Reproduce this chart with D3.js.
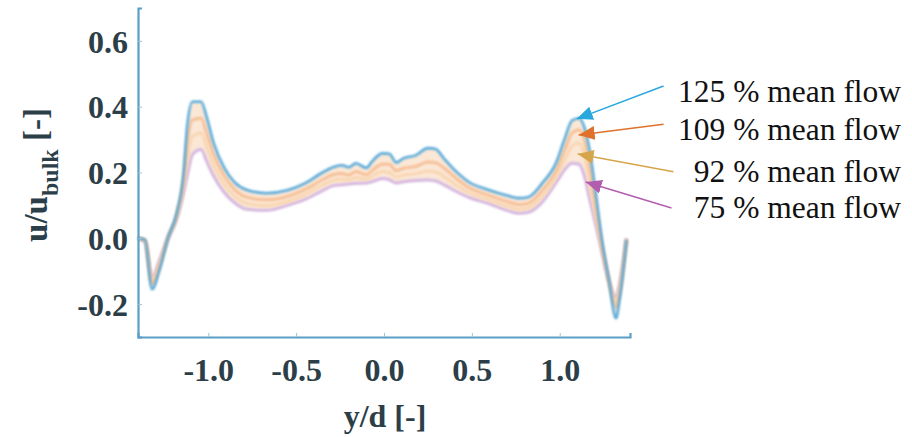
<!DOCTYPE html>
<html><head><meta charset="utf-8">
<script src="https://cdn.jsdelivr.net/npm/d3@7"></script>
<style>
html,body{margin:0;padding:0;background:#fff;}
svg{display:block;}
</style></head>
<body>
<svg id="chart" width="912" height="437"></svg>
<script>
// y/d positions shared by every series
const yd = [-1.40,-1.36,-1.32,-1.28,-1.23,-1.18,-1.14,-1.12,-1.09,-1.04,-1.01,-0.97,-0.91,-0.85,-0.78,-0.67,-0.55,-0.45,-0.35,-0.29,-0.24,-0.20,-0.16,-0.10,-0.07,-0.01,0.03,0.07,0.11,0.18,0.25,0.29,0.35,0.42,0.48,0.60,0.70,0.77,0.82,0.90,0.98,1.03,1.07,1.11,1.14,1.17,1.21,1.24,1.28,1.32,1.34,1.38];

const flow125 = [0.00,-0.005,-0.155,-0.10,0.00,0.075,0.20,0.34,0.415,0.415,0.37,0.29,0.215,0.17,0.147,0.137,0.146,0.167,0.20,0.216,0.222,0.216,0.228,0.214,0.232,0.258,0.257,0.23,0.243,0.252,0.274,0.272,0.237,0.198,0.172,0.146,0.13,0.122,0.125,0.167,0.23,0.305,0.358,0.365,0.338,0.268,0.116,-0.005,-0.127,-0.243,-0.188,-0.005];
const flow109 = [0.00,-0.005,-0.14,-0.09,0.00,0.07,0.18,0.29,0.36,0.365,0.32,0.255,0.19,0.148,0.125,0.117,0.127,0.148,0.178,0.193,0.197,0.192,0.203,0.193,0.205,0.225,0.225,0.205,0.213,0.218,0.232,0.23,0.21,0.178,0.155,0.13,0.112,0.103,0.106,0.145,0.205,0.27,0.32,0.33,0.30,0.22,0.08,-0.02,-0.13,-0.21,-0.17,-0.005];
const flow92 = [0.00,-0.008,-0.13,-0.08,0.00,0.065,0.16,0.24,0.31,0.32,0.28,0.222,0.165,0.128,0.106,0.10,0.112,0.133,0.162,0.176,0.18,0.178,0.185,0.18,0.188,0.203,0.20,0.186,0.192,0.196,0.204,0.202,0.185,0.158,0.14,0.117,0.098,0.089,0.092,0.127,0.188,0.24,0.28,0.29,0.255,0.17,0.055,-0.03,-0.13,-0.195,-0.155,-0.003];
const flow75 = [0.00,-0.01,-0.12,-0.07,0.00,0.06,0.14,0.19,0.255,0.27,0.235,0.19,0.14,0.108,0.088,0.085,0.10,0.118,0.145,0.16,0.163,0.165,0.167,0.168,0.172,0.182,0.178,0.168,0.172,0.176,0.177,0.175,0.16,0.14,0.125,0.105,0.085,0.076,0.079,0.11,0.17,0.21,0.228,0.225,0.19,0.12,0.03,-0.04,-0.13,-0.18,-0.14,0.00];

const seriesNames = ["125 % mean flow","109 % mean flow","92 % mean flow","75 % mean flow"];
const xTicks = [-1.0,-0.5,0.0,0.5,1.0];
const yTicks = [-0.2,0.0,0.2,0.4,0.6];
// annotation arrows: tail and tip in data units, label anchor in data units
const arrowTail = [[1.591,0.463],[1.591,0.347],[1.648,0.202],[1.636,0.092]];
const arrowTip  = [[1.097,0.363],[1.108,0.314],[1.102,0.256],[1.148,0.171]];
const labelPos  = [[2.943,0.414],[2.943,0.299],[2.943,0.171],[2.943,0.062]];

const lineColors  = ["#55a9d9","#f6bf96","#f8d6b0","#d4b6e0"];
const arrowColors = ["#2aa8de","#e0712c","#d6a54b","#b25eae"];

const svg = d3.select("#chart");
const x = d3.scaleLinear().domain([-1.4,1.4]).range([138,630]);
const y = d3.scaleLinear().domain([-0.3,0.7]).range([337,8]);

const defs = svg.append("defs");
defs.append("filter").attr("id","soft").append("feGaussianBlur").attr("stdDeviation",0.8);
arrowColors.forEach((c,i)=>{
  defs.append("marker").attr("id","ah"+i).attr("markerUnits","userSpaceOnUse")
    .attr("markerWidth",17).attr("markerHeight",15).attr("refX",16).attr("refY",7)
    .attr("orient","auto")
    .append("path").attr("d","M0,0 L16,7 L0,14 Z").attr("fill",c);
});

// band between lowest and highest flow
const bandData = yd.map((v,i)=>({x:v, lo:flow75[i], hi:flow125[i]}));
svg.append("path").datum(bandData)
  .attr("d", d3.area().x(d=>x(d.x)).y0(d=>y(d.lo)).y1(d=>y(d.hi)).curve(d3.curveMonotoneX))
  .attr("fill","#fbe3cf").attr("opacity",0.85).attr("filter","url(#soft)");

const all = [flow125, flow109, flow92, flow75];
const line = d3.line().x(d=>x(d[0])).y(d=>y(d[1])).curve(d3.curveMonotoneX);
[3,2,1,0].forEach(i=>{
  svg.append("path").datum(yd.map((v,j)=>[v, all[i][j]]))
    .attr("d", line).attr("fill","none")
    .attr("stroke", lineColors[i]).attr("stroke-width", i===0?2.6:3)
    .attr("filter","url(#soft)");
});

// axes
const axisColor = "#5b9ec6";
const font = "'Liberation Serif', 'Times New Roman', serif";
const gx = svg.append("g").attr("transform","translate(0,337)")
  .call(d3.axisBottom(x).tickValues(xTicks).tickSize(-4).tickFormat(d3.format(".1f")));
const gy = svg.append("g").attr("transform","translate(138,0)")
  .call(d3.axisLeft(y).tickValues(yTicks).tickSize(-4).tickFormat(d3.format(".1f")));
[gx,gy].forEach(g=>{
  g.select(".domain").attr("stroke",axisColor).attr("stroke-width",2.2);
  g.selectAll(".tick line").attr("stroke","#9cc3da").attr("stroke-width",1);
  g.selectAll("text").attr("font-family",font).attr("font-weight","bold")
    .attr("font-size",32).attr("fill","#2c3e48");
});
gx.selectAll("text").attr("dy",null).attr("y",44);
gy.selectAll("text").attr("x",-10).attr("dy","0.35em");
gx.selectAll(".tick text").text(d=>d3.format(".1f")(d).replace("−","-"));
gy.selectAll(".tick text").text(d=>d3.format(".1f")(d).replace("−","-"));

// axis titles
svg.append("text").attr("x",385).attr("y",427).attr("text-anchor","middle")
  .attr("font-family",font).attr("font-weight","bold").attr("font-size",32)
  .attr("fill","#2c3e48").text("y/d [-]");
const yl = svg.append("text").attr("transform","translate(47,175) rotate(-90)")
  .attr("text-anchor","middle").attr("font-family",font).attr("font-weight","bold")
  .attr("font-size",33).attr("fill","#2c3e48");
yl.append("tspan").text("u/u");
yl.append("tspan").attr("font-size",24).attr("dy",11).text("bulk");
yl.append("tspan").attr("dy",-11).text(" [-]");

// annotations
const ann = svg.append("g");
seriesNames.forEach((s,i)=>{
  ann.append("line")
    .attr("x1",x(arrowTail[i][0])).attr("y1",y(arrowTail[i][1]))
    .attr("x2",x(arrowTip[i][0])).attr("y2",y(arrowTip[i][1]))
    .attr("stroke",arrowColors[i]).attr("stroke-width",1.5)
    .attr("marker-end","url(#ah"+i+")");
  ann.append("text").attr("x",x(labelPos[i][0])).attr("y",y(labelPos[i][1]))
    .attr("text-anchor","end").attr("font-family",font).attr("font-size",31.5)
    .attr("fill","#111").text(s);
});
</script>
</body></html>
